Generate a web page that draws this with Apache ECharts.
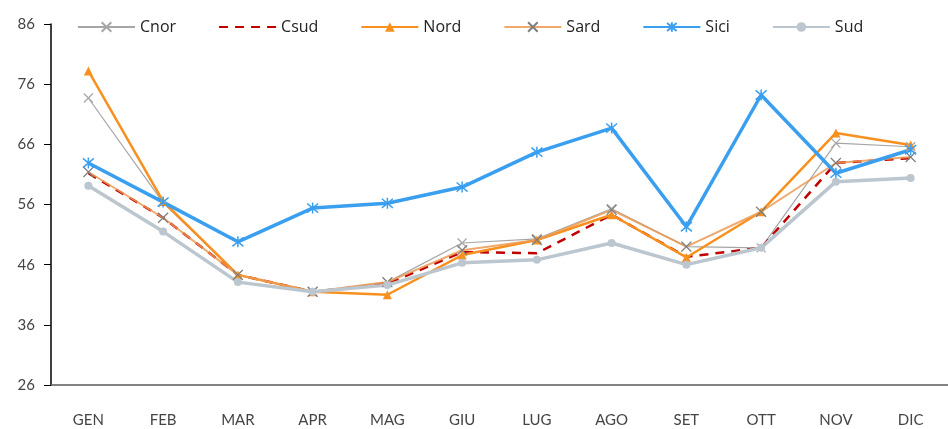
<!DOCTYPE html>
<html>
<head>
<meta charset="utf-8">
<script src="https://cdn.jsdelivr.net/npm/echarts@6/dist/echarts.min.js"></script>
<style>
html,body{margin:0;padding:0;background:#fff;}
#chart{width:948px;height:429px;}
</style>
</head>
<body>
<div id="chart"></div>
<script>
// mesi
var months = ['GEN','FEB','MAR','APR','MAG','GIU','LUG','AGO','SET','OTT','NOV','DIC'];
// serie
var cnor = [73.7, 56.3, 44.3, 41.5, 43.1, 49.6, 50.3, 55.3, 49.0, 48.8, 66.2, 65.6];
var csud = [61.2, 53.8, 44.3, 41.5, 42.8, 48.1, 47.9, 54.3, 47.3, 48.8, 62.9, 63.7];
var nord = [78.2, 56.5, 44.3, 41.5, 41.0, 47.6, 50.1, 54.3, 47.2, 54.8, 67.9, 65.9];
var sard = [61.4, 53.8, 44.3, 41.5, 43.1, 48.4, 50.1, 55.1, 49.0, 54.8, 62.9, 63.9];
var sici = [62.9, 56.4, 49.8, 55.4, 56.2, 58.9, 64.7, 68.7, 52.3, 74.2, 61.2, 65.1];
var sud  = [59.1, 51.5, 43.1, 41.5, 42.6, 46.3, 46.8, 49.6, 46.0, 48.8, 59.8, 60.4];
// asse y
var yMin = 26, yMax = 86, yStep = 10;

(function(){
	var xMark = 'path://M0,0L10,10M10,0L0,10';
	var starMark = 'path://M0,0L10,10M10,0L0,10M5,-1L5,11';
	var myChart = echarts.init(document.getElementById('chart'));
	var option = {
		animation: false,
		legend: {
			left: 72,
			top: 14,
			itemWidth: 57,
			itemHeight: 12,
			itemGap: 42,
			data: ['Cnor', {name: 'Csud', itemStyle: {opacity: 0}}, 'Nord', 'Sard', 'Sici', 'Sud'],
			textStyle: {
				color: '#222',
				fontSize: 16,
				fontFamily: 'Open Sans'
			}
		},
		grid: {
			left: 51,
			top: 24,
			width: 902,
			bottom: 44
		},
		xAxis: {
			type: 'category',
			data: months,
			boundaryGap: true,
			axisTick: {show: false},
			axisLine: {lineStyle: {color: '#595959', width: 1.5}},
			axisLabel: {
				margin: 28,
				color: '#444',
				fontSize: 15,
				fontFamily: 'Lato'
			}
		},
		yAxis: {
			type: 'value',
			min: yMin,
			max: yMax,
			interval: yStep,
			splitLine: {show: false},
			axisLine: {show: true, lineStyle: {color: '#000', width: 1.5}},
			axisTick: {show: true, length: 7, lineStyle: {color: '#000'}},
			axisLabel: {
				margin: 16,
				color: '#444',
				fontSize: 15,
				fontFamily: 'Lato'
			}
		},
		series: [
			{
				name: 'Cnor',
				type: 'line',
				data: cnor,
				symbol: xMark,
				symbolSize: 9,
				lineStyle: {color: '#a6a6a6', width: 1.2},
				itemStyle: {color: '#a6a6a6', borderColor: '#a6a6a6', borderWidth: 1.2}
			},
			{
				name: 'Csud',
				type: 'line',
				data: csud,
				symbol: 'none',
				lineStyle: {color: '#c00000', width: 2.5, type: [9, 7]},
				itemStyle: {color: '#c00000'}
			},
			{
				name: 'Nord',
				type: 'line',
				data: nord,
				symbol: 'triangle',
				symbolSize: 9,
				lineStyle: {color: '#f7901e', width: 2.5},
				itemStyle: {color: '#f7901e'}
			},
			{
				name: 'Sard',
				type: 'line',
				data: sard,
				symbol: xMark,
				symbolSize: 10,
				lineStyle: {color: '#ec9a52', width: 2, opacity: 0.85},
				itemStyle: {color: '#7f7f7f', borderColor: '#7f7f7f', borderWidth: 1.2}
			},
			{
				name: 'Sici',
				type: 'line',
				data: sici,
				symbol: starMark,
				symbolSize: 11,
				lineStyle: {color: '#3b9fef', width: 3.5},
				itemStyle: {color: '#3b9fef', borderColor: '#3b9fef', borderWidth: 1.5}
			},
			{
				name: 'Sud',
				type: 'line',
				data: sud,
				symbol: 'circle',
				symbolSize: 8,
				lineStyle: {color: '#bcc6cf', width: 3.5},
				itemStyle: {color: '#bcc6cf'}
			}
		]
	};
	myChart.setOption(option);
	window.addEventListener('resize', function(){
		myChart.resize();
	});
})();
</script>
</body>
</html>
